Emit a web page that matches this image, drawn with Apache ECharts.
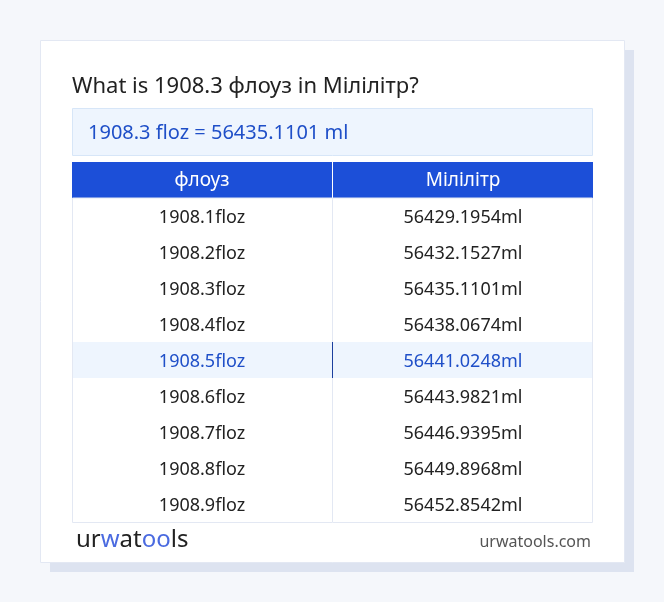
<!DOCTYPE html>
<html>
<head>
<meta charset="utf-8">
<script src="https://cdn.jsdelivr.net/npm/echarts@6/dist/echarts.min.js"></script>
<style>
html,body{margin:0;padding:0;background:#f5f7fb;}
#main{width:664px;height:602px;}
</style>
</head>
<body>
<div id="main"></div>
<script>
// таблиця перетворення
var titleText = 'What is 1908.3 флоуз in Мілілітр?';
var answerText = '1908.3 floz = 56435.1101 ml';
var headers = ['флоуз', 'Мілілітр'];
var flozValues = ['1908.1', '1908.2', '1908.3', '1908.4', '1908.5', '1908.6', '1908.7', '1908.8', '1908.9'];
var mlValues = ['56429.1954', '56432.1527', '56435.1101', '56438.0674', '56441.0248', '56443.9821', '56446.9395', '56449.8968', '56452.8542'];
var highlightIndex = 4;

var font = '"Noto Sans", "Open Sans", sans-serif';
var myChart = echarts.init(document.getElementById('main'));

var els = [
	{type: 'rect', shape: {x: 50, y: 50, width: 584, height: 522}, style: {fill: '#dde3f0'}},
	{type: 'rect', shape: {x: 40.5, y: 40.5, width: 584, height: 522}, style: {fill: '#fff', stroke: '#e3e8f3', lineWidth: 1}},
	{type: 'text', x: 72, y: 87, style: {text: titleText, font: '22px ' + font, fill: '#222', verticalAlign: 'middle'}},
	{type: 'rect', shape: {x: 72.5, y: 108.5, width: 520, height: 47}, style: {fill: '#eef5fe', stroke: '#d7e6f8', lineWidth: 1}},
	{type: 'text', x: 88, y: 133, style: {text: answerText, font: '20px ' + font, fill: '#1f4fc8', verticalAlign: 'middle'}},
	{type: 'rect', shape: {x: 72, y: 162, width: 521, height: 36}, style: {fill: '#1c4fd8'}},
	{type: 'rect', shape: {x: 332, y: 162, width: 1, height: 36}, style: {fill: '#ffffff'}},
	{type: 'text', x: 202, y: 181, style: {text: headers[0], font: '19px ' + font, fill: '#fff', align: 'center', verticalAlign: 'middle'}},
	{type: 'text', x: 463, y: 181, style: {text: headers[1], font: '19px ' + font, fill: '#fff', align: 'center', verticalAlign: 'middle'}}
];

var rowH = 36, top0 = 198;
for (var i = 0; i < flozValues.length; i++) {
	var y = top0 + i * rowH;
	var hl = i === highlightIndex;
	if (hl) {
		els.push({type: 'rect', shape: {x: 72, y: y, width: 521, height: rowH}, style: {fill: '#eef5fe'}});
	}
	els.push({type: 'rect', shape: {x: 332, y: y, width: 1, height: rowH}, style: {fill: hl ? '#1c3f9e' : '#e3e8f3'}});
	els.push({type: 'text', x: 202, y: y + 20, style: {text: flozValues[i] + 'floz', font: '18px ' + font, fill: hl ? '#1f4fc8' : '#222', align: 'center', verticalAlign: 'middle'}});
	els.push({type: 'text', x: 463, y: y + 20, style: {text: mlValues[i] + 'ml', font: '18px ' + font, fill: hl ? '#1f4fc8' : '#222', align: 'center', verticalAlign: 'middle'}});
}
// рамка таблиці
els.push({type: 'rect', shape: {x: 72.5, y: 198, width: 520, height: rowH * 9 + 0.5}, style: {fill: 'none', stroke: '#e3e8f3', lineWidth: 1}});

// логотип
els.push({type: 'text', x: 76, y: 540, style: {
	rich: {d: {font: '24px ' + font, fill: '#222'}, b: {font: '24px ' + font, fill: '#4a6ae0'}},
	text: '{d|ur}{b|w}{d|at}{b|oo}{d|ls}', verticalAlign: 'middle'}});
els.push({type: 'text', x: 591, y: 542, style: {text: 'urwatools.com', font: '16px ' + font, fill: '#555', align: 'right', verticalAlign: 'middle'}});

myChart.setOption({animation: false, graphic: {elements: els}});
</script>
</body>
</html>
